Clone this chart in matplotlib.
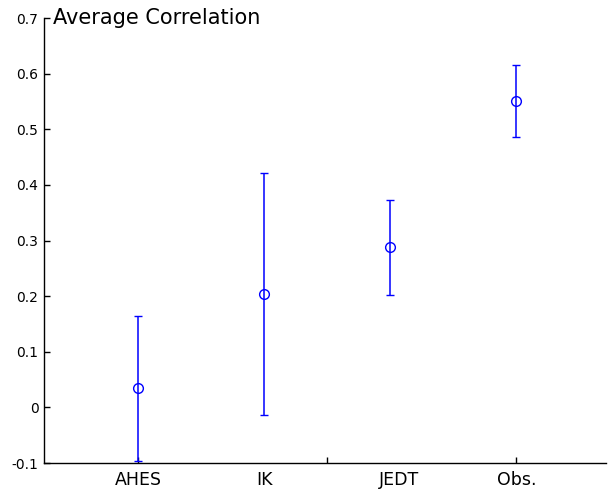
import matplotlib
matplotlib.use("Agg")
import matplotlib.pyplot as plt

models = ["AHES", "IK", "JEDT", "Obs."]
positions = [1, 2, 3, 4]
label_positions = [1, 2, 3.07, 4]
mean_corr = [0.034, 0.204, 0.288, 0.551]
err_corr = [0.130, 0.218, 0.085, 0.065]

fig = plt.figure(figsize=(6.09, 4.90), dpi=100)
ax = fig.add_axes([0.0722, 0.0551, 0.9228, 0.9079])

ax.errorbar(positions, mean_corr, yerr=err_corr, fmt="o", color="#0000ff",
            mfc="none", mec="#0000ff", ms=7, elinewidth=1.1, capsize=2.6,
            capthick=1.1, mew=1.0)

ax.set_xlim(0.254, 4.71)
ax.set_ylim(-0.1, 0.7)
ax.set_yticks([-0.1, 0, 0.1, 0.2, 0.3, 0.4, 0.5, 0.6, 0.7])
ax.set_yticklabels(["-0.1", "0", "0.1", "0.2", "0.3", "0.4", "0.5", "0.6", "0.7"])

# category names on major ticks (no marks), tick marks on minor ticks
ax.xaxis.remove_overlapping_locs = False
ax.set_xticks(label_positions)
ax.set_xticklabels(models, fontsize=12.5)
ax.tick_params(axis="x", which="major", length=0, pad=6)
ax.set_xticks([1, 2.5, 4], minor=True)
ax.tick_params(axis="x", which="minor", direction="in", length=4, width=1)
ax.tick_params(axis="y", direction="in", length=4, width=1, labelsize=10, pad=4)

for side in ["top", "right"]:
    ax.spines[side].set_visible(False)
for side in ["left", "bottom"]:
    ax.spines[side].set_linewidth(1.0)

fig.text(0.087, 0.963, "Average Correlation", fontsize=15, ha="left", va="center")

fig.savefig("out.png", dpi=100)
